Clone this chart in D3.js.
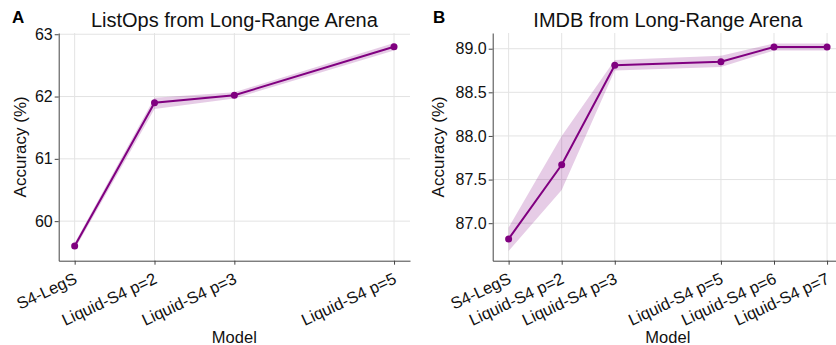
<!DOCTYPE html>
<html>
<head>
<meta charset="utf-8">
<style>
  body { margin: 0; background: #fff; }
  svg { display: block; font-family: "Liberation Sans", Arial, sans-serif; }
  .grid line { stroke: #e3e3e3; stroke-width: 1; }
  .axis path, .axis line { stroke: #444; }
  .axis text { font-size: 16px; fill: #111; }
</style>
</head>
<body>
<div id="chart"></div>
<script src="https://d3js.org/d3.v7.min.js"></script>
<script>
  // ListOps panel
  var listopsModels = ["S4-LegS", "Liquid-S4 p=2", "Liquid-S4 p=3", "Liquid-S4 p=5"];
  var listopsX = [1, 2, 3, 5];
  var listopsAcc = [59.6, 61.9, 62.02, 62.8];
  var listopsLow = [59.55, 61.8, 61.97, 62.74];
  var listopsHigh = [59.65, 61.98, 62.07, 62.86];
  var listopsTicks = [60, 61, 62, 63];

  // IMDB panel
  var imdbModels = ["S4-LegS", "Liquid-S4 p=2", "Liquid-S4 p=3", "Liquid-S4 p=5", "Liquid-S4 p=6", "Liquid-S4 p=7"];
  var imdbX = [1, 2, 3, 5, 6, 7];
  var imdbAcc = [86.82, 87.67, 88.81, 88.85, 89.02, 89.02];
  var imdbLow = [86.68, 87.38, 88.75, 88.79, 88.98, 88.98];
  var imdbHigh = [86.95, 88.0, 88.87, 88.92, 89.06, 89.06];
  var imdbTicks = [87.0, 87.5, 88.0, 88.5, 89.0];

  var width = 836, height = 345;
  var svg = d3.select("#chart").append("svg")
    .attr("width", width)
    .attr("height", height);

  function panel(opt) {
    var x = d3.scaleLinear().domain(opt.xDomain).range([opt.left, opt.right]);
    var y = d3.scaleLinear().domain(opt.yDomain).range([opt.bottom, opt.top]);
    var g = svg.append("g");

    // grid
    var grid = g.append("g").attr("class", "grid");
    grid.selectAll(".gx").data(opt.xs).enter().append("line")
      .attr("x1", function(d) { return x(d); }).attr("x2", function(d) { return x(d); })
      .attr("y1", opt.top).attr("y2", opt.bottom);
    grid.selectAll(".gy").data(opt.yTicks).enter().append("line")
      .attr("x1", opt.left).attr("x2", opt.right)
      .attr("y1", function(d) { return y(d); }).attr("y2", function(d) { return y(d); });

    // band
    var idx = d3.range(opt.xs.length);
    var area = d3.area()
      .x(function(i) { return x(opt.xs[i]); })
      .y0(function(i) { return y(opt.low[i]); })
      .y1(function(i) { return y(opt.high[i]); });
    g.append("path").datum(idx)
      .attr("d", area)
      .attr("fill", "purple")
      .attr("fill-opacity", 0.2);

    var line = d3.line()
      .x(function(i) { return x(opt.xs[i]); })
      .y(function(i) { return y(opt.acc[i]); });
    g.append("path").datum(idx)
      .attr("d", line)
      .attr("fill", "none")
      .attr("stroke", "purple")
      .attr("stroke-width", 2);

    g.selectAll(".dot").data(idx).enter().append("circle")
      .attr("cx", function(i) { return x(opt.xs[i]); })
      .attr("cy", function(i) { return y(opt.acc[i]); })
      .attr("r", 3.5)
      .attr("fill", "purple");

    // axes
    var xAxis = g.append("g").attr("class", "axis")
      .attr("transform", "translate(0," + opt.bottom + ")")
      .call(d3.axisBottom(x).tickValues(opt.xs)
        .tickFormat(function(d, i) { return opt.names[i]; })
        .tickSize(4).tickSizeOuter(0));
    xAxis.selectAll("text")
      .style("font-size", "16.5px")
      .attr("text-anchor", "end")
      .attr("dy", null)
      .attr("y", 0)
      .attr("transform", "translate(3,22) rotate(-25)");

    var yAxis = g.append("g").attr("class", "axis")
      .attr("transform", "translate(" + opt.left + ",0)")
      .call(d3.axisLeft(y).tickValues(opt.yTicks)
        .tickFormat(opt.fmt).tickSize(4).tickSizeOuter(0));
    yAxis.selectAll("text").attr("x", -6);

    // titles
    svg.append("text")
      .attr("x", (opt.left + opt.right) / 2).attr("y", 27)
      .attr("text-anchor", "middle")
      .style("font-size", "20px").attr("fill", "#111")
      .text(opt.title);
    svg.append("text")
      .attr("x", opt.letterX).attr("y", 23)
      .style("font-size", "17px").style("font-weight", "bold")
      .text(opt.letter);
    svg.append("text")
      .attr("transform", "translate(" + opt.ylabX + "," + ((opt.top + opt.bottom) / 2) + ") rotate(-90)")
      .attr("text-anchor", "middle")
      .style("font-size", "17px").attr("fill", "#111")
      .text("Accuracy (%)");
    svg.append("text")
      .attr("x", (opt.left + opt.right) / 2).attr("y", 343)
      .attr("text-anchor", "middle")
      .style("font-size", "16.5px").attr("fill", "#111")
      .text("Model");
  }

  panel({
    names: listopsModels, xs: listopsX, acc: listopsAcc, low: listopsLow, high: listopsHigh,
    yTicks: listopsTicks, fmt: d3.format("d"),
    xDomain: [0.8, 5.2], yDomain: [59.365, 63.02],
    left: 58.7, right: 410, top: 33, bottom: 260.7,
    title: "ListOps from Long-Range Arena", letter: "A", letterX: 12, ylabX: 26
  });

  panel({
    names: imdbModels, xs: imdbX, acc: imdbAcc, low: imdbLow, high: imdbHigh,
    yTicks: imdbTicks, fmt: d3.format(".1f"),
    xDomain: [0.7, 7.3], yDomain: [86.57, 89.18],
    left: 492.7, right: 843, top: 33, bottom: 260.7,
    title: "IMDB from Long-Range Arena", letter: "B", letterX: 433, ylabX: 444
  });
</script>
</body>
</html>
